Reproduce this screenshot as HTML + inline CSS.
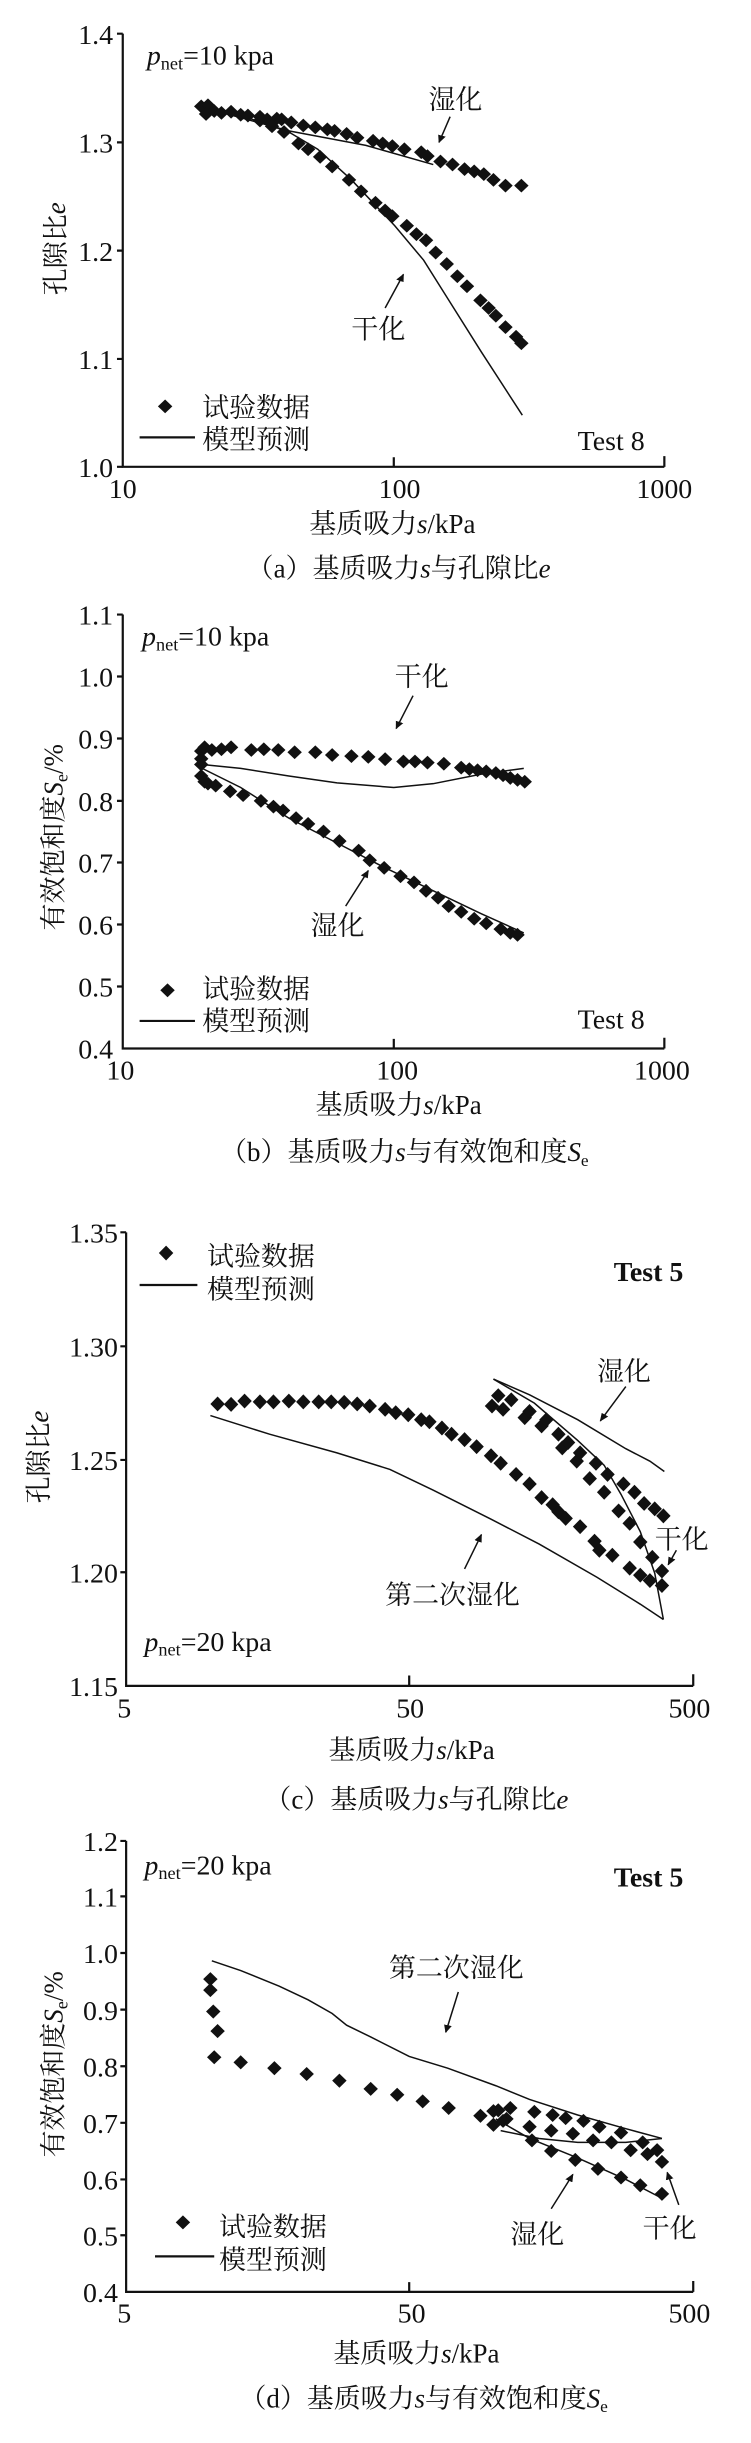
<!DOCTYPE html>
<html><head><meta charset="utf-8"><style>
html,body{margin:0;padding:0;background:#fff}
body{width:751px;height:2443px;position:relative;overflow:hidden}
svg{position:absolute;left:0}
text{font-family:"Liberation Serif","Noto Serif CJK SC",serif;fill:#111}
text:not(.r){transform-box:fill-box;transform-origin:center}
.A text:not(.r){transform:scaleY(1.26)}
.C text:not(.r){transform:scaleY(1.16)}
.D text:not(.r){transform:scaleY(1.233)}
.t{font-size:58px}
.c{font-size:56px}
.b{font-weight:bold}
.ax{stroke-width:2.2px}
.ln{stroke-width:1.5px}
path.s{vector-effect:non-scaling-stroke}
</style></head><body>
<svg width="0" height="0" style="position:absolute"><defs>
<path id="d" d="M0,-18 L15,0 0,18 -15,0Z" fill="#111"/>
<marker id="ar" viewBox="0 0 10 10" refX="9" refY="5" markerWidth="6" markerHeight="6" orient="auto"><path d="M0,1 L10,5 0,9Z" fill="#111"/></marker>
</defs></svg>

<!-- Chart a -->
<svg class="A" style="top:0" width="751" height="600" viewBox="0 0 1560 1568" preserveAspectRatio="none">
<g stroke="#111" fill="none">
<path class="s ax" d="M255,88 V1220 H1380"/>
<path class="s ax" d="M243,88H255M243,372H255M243,655H255M243,938H255M243,1220H255"/>
<path class="s ax" d="M818,1220V1195M1380,1220V1192"/>
</g>
<g class="t" text-anchor="end"><text x="235" y="110">1.4</text><text x="235" y="394">1.3</text><text x="235" y="677">1.2</text><text x="235" y="960">1.1</text><text x="235" y="1242">1.0</text></g>
<g class="t" text-anchor="middle"><text x="255" y="1297">10</text><text x="830" y="1297">100</text><text x="1380" y="1297">1000</text></g>
<text class="c" x="815" y="1388" text-anchor="middle">基质吸力<tspan font-style="italic">s</tspan>/kPa</text>
<text class="c" x="828" y="1505" text-anchor="middle">（a）基质吸力<tspan font-style="italic">s</tspan>与孔隙比<tspan font-style="italic">e</tspan></text>
<text class="c r" transform="translate(135,650) scale(1,1.26) rotate(-90)" text-anchor="middle">孔隙比<tspan font-style="italic">e</tspan></text>
<text class="t" x="305" y="165"><tspan font-style="italic">p</tspan><tspan font-size="38" dy="10">net</tspan><tspan dy="-10">=10 kpa</tspan></text>
<text class="c" x="890" y="280">湿化</text>
<text class="c" x="730" y="880">干化</text>
<text class="t" x="1200" y="1172">Test 8</text>
<g stroke="#111" fill="none">
<path class="s ln" d="M935,305 L912,372" marker-end="url(#ar)"/>
<path class="s ln" d="M800,805 L838,717" marker-end="url(#ar)"/>
<path class="s ax" d="M290,1143H405"/>
<path class="s ln" d="M420,280 L600,342 L760,380 L900,430"/>
<path class="s ln" d="M420,280 L520,310 L600,345 L660,390 L730,470 L820,590 L880,680 L930,780 L1000,920 L1085,1085"/>
</g>
<use href="#d" x="343" y="1062"/>
<text class="c" x="420" y="1085">试验数据</text><text class="c" x="420" y="1168">模型预测</text>
<g>
<use href="#d" x="418" y="278"/><use href="#d" x="432" y="275"/><use href="#d" x="428" y="298"/><use href="#d" x="445" y="290"/><use href="#d" x="460" y="295"/><use href="#d" x="480" y="292"/><use href="#d" x="500" y="300"/><use href="#d" x="515" y="302"/><use href="#d" x="540" y="305"/><use href="#d" x="555" y="312"/><use href="#d" x="575" y="310"/><use href="#d" x="585" y="312"/><use href="#d" x="605" y="320"/><use href="#d" x="630" y="328"/><use href="#d" x="655" y="333"/><use href="#d" x="680" y="338"/><use href="#d" x="695" y="342"/><use href="#d" x="720" y="350"/><use href="#d" x="742" y="360"/><use href="#d" x="775" y="368"/><use href="#d" x="795" y="375"/><use href="#d" x="815" y="382"/><use href="#d" x="840" y="390"/><use href="#d" x="875" y="398"/><use href="#d" x="888" y="408"/><use href="#d" x="915" y="422"/><use href="#d" x="940" y="430"/><use href="#d" x="965" y="442"/><use href="#d" x="985" y="448"/><use href="#d" x="1005" y="455"/><use href="#d" x="1025" y="470"/><use href="#d" x="1050" y="485"/><use href="#d" x="1083" y="485"/>
<use href="#d" x="540" y="315"/><use href="#d" x="565" y="330"/><use href="#d" x="590" y="345"/><use href="#d" x="620" y="375"/><use href="#d" x="640" y="390"/><use href="#d" x="665" y="410"/><use href="#d" x="690" y="435"/><use href="#d" x="725" y="470"/><use href="#d" x="750" y="500"/><use href="#d" x="780" y="530"/><use href="#d" x="800" y="550"/><use href="#d" x="815" y="565"/><use href="#d" x="845" y="590"/><use href="#d" x="865" y="612"/><use href="#d" x="885" y="628"/><use href="#d" x="905" y="660"/><use href="#d" x="928" y="690"/><use href="#d" x="950" y="722"/><use href="#d" x="970" y="748"/><use href="#d" x="998" y="785"/><use href="#d" x="1015" y="805"/><use href="#d" x="1030" y="825"/><use href="#d" x="1050" y="855"/><use href="#d" x="1072" y="880"/><use href="#d" x="1083" y="897"/>
</g>
</svg>

<!-- Chart b -->
<svg class="A" style="top:600px" width="751" height="600" viewBox="0 0 1560 1568" preserveAspectRatio="none">
<g stroke="#111" fill="none">
<path class="s ax" d="M255,38 V1172 H1380"/>
<path class="s ax" d="M243,38H255M243,200H255M243,362H255M243,525H255M243,686H255M243,848H255M243,1010H255"/>
<path class="s ax" d="M818,1172V1147M1380,1172V1144"/>
</g>
<g class="t" text-anchor="end"><text x="235" y="60">1.1</text><text x="235" y="222">1.0</text><text x="235" y="384">0.9</text><text x="235" y="547">0.8</text><text x="235" y="708">0.7</text><text x="235" y="870">0.6</text><text x="235" y="1032">0.5</text><text x="235" y="1194">0.4</text></g>
<g class="t" text-anchor="middle"><text x="250" y="1248">10</text><text x="825" y="1248">100</text><text x="1375" y="1248">1000</text></g>
<text class="c" x="828" y="1338" text-anchor="middle">基质吸力<tspan font-style="italic">s</tspan>/kPa</text>
<text class="c" x="840" y="1462" text-anchor="middle">（b）基质吸力<tspan font-style="italic">s</tspan>与有效饱和度<tspan font-style="italic">S</tspan><tspan font-size="36" dy="10">e</tspan></text>
<text class="c r" transform="translate(130,620) scale(1,1.26) rotate(-90)" text-anchor="middle">有效饱和度<tspan font-style="italic">S</tspan><tspan font-size="38" dy="10">e</tspan><tspan dy="-10">/%</tspan></text>
<text class="t" x="295" y="115"><tspan font-style="italic">p</tspan><tspan font-size="38" dy="10">net</tspan><tspan dy="-10">=10 kpa</tspan></text>
<text class="c" x="820" y="220">干化</text>
<text class="c" x="645" y="870">湿化</text>
<text class="t" x="1200" y="1115">Test 8</text>
<g stroke="#111" fill="none">
<path class="s ln" d="M858,250 L823,336" marker-end="url(#ar)"/>
<path class="s ln" d="M718,800 L765,707" marker-end="url(#ar)"/>
<path class="s ax" d="M290,1100H405"/>
<path class="s ln" d="M420,430 L500,440 L600,460 L700,478 L818,490 L900,480 L1000,455 L1088,440"/>
<path class="s ln" d="M420,440 L500,490 L600,570 L700,635 L800,700 L900,760 L1000,820 L1088,870"/>
</g>
<use href="#d" x="348" y="1020"/>
<text class="c" x="420" y="1037">试验数据</text><text class="c" x="420" y="1120">模型预测</text>
<g>
<use href="#d" x="418" y="395"/><use href="#d" x="425" y="385"/><use href="#d" x="440" y="392"/><use href="#d" x="460" y="390"/><use href="#d" x="480" y="385"/><use href="#d" x="522" y="392"/><use href="#d" x="548" y="390"/><use href="#d" x="578" y="392"/><use href="#d" x="612" y="398"/><use href="#d" x="655" y="398"/><use href="#d" x="690" y="405"/><use href="#d" x="730" y="408"/><use href="#d" x="765" y="410"/><use href="#d" x="800" y="416"/><use href="#d" x="838" y="422"/><use href="#d" x="862" y="422"/><use href="#d" x="888" y="425"/><use href="#d" x="922" y="428"/><use href="#d" x="958" y="438"/><use href="#d" x="975" y="442"/><use href="#d" x="992" y="445"/><use href="#d" x="1010" y="448"/><use href="#d" x="1030" y="452"/><use href="#d" x="1045" y="458"/><use href="#d" x="1060" y="465"/><use href="#d" x="1075" y="470"/><use href="#d" x="1090" y="475"/>
<use href="#d" x="418" y="430"/><use href="#d" x="418" y="415"/>
<use href="#d" x="418" y="460"/><use href="#d" x="425" y="475"/><use href="#d" x="432" y="480"/><use href="#d" x="448" y="485"/><use href="#d" x="478" y="500"/><use href="#d" x="505" y="510"/><use href="#d" x="542" y="525"/><use href="#d" x="568" y="540"/><use href="#d" x="588" y="550"/><use href="#d" x="615" y="570"/><use href="#d" x="640" y="585"/><use href="#d" x="672" y="605"/><use href="#d" x="705" y="630"/><use href="#d" x="745" y="655"/><use href="#d" x="768" y="680"/><use href="#d" x="798" y="700"/><use href="#d" x="832" y="722"/><use href="#d" x="860" y="738"/><use href="#d" x="885" y="760"/><use href="#d" x="910" y="778"/><use href="#d" x="932" y="800"/><use href="#d" x="958" y="815"/><use href="#d" x="985" y="833"/><use href="#d" x="1010" y="845"/><use href="#d" x="1040" y="860"/><use href="#d" x="1060" y="870"/><use href="#d" x="1075" y="875"/>
</g>
</svg>

<!-- Chart c -->
<svg class="C" style="top:1200px" width="751" height="650" viewBox="0 0 1560 1568" preserveAspectRatio="none">
<g stroke="#111" fill="none">
<path class="s ax" d="M262,78 V1172 H1440"/>
<path class="s ax" d="M250,78H262M250,353H262M250,627H262M250,898H262"/>
<path class="s ax" d="M850,1172V1147M1440,1172V1144"/>
</g>
<g class="t" text-anchor="end"><text x="245" y="100">1.35</text><text x="245" y="375">1.30</text><text x="245" y="649">1.25</text><text x="245" y="920">1.20</text><text x="245" y="1194">1.15</text></g>
<g class="t" text-anchor="middle"><text x="258" y="1245">5</text><text x="852" y="1245">50</text><text x="1432" y="1245">500</text></g>
<text class="c" x="855" y="1345" text-anchor="middle">基质吸力<tspan font-style="italic">s</tspan>/kPa</text>
<text class="c" x="865" y="1465" text-anchor="middle">（c）基质吸力<tspan font-style="italic">s</tspan>与孔隙比<tspan font-style="italic">e</tspan></text>
<text class="c r" transform="translate(100,620) scale(1,1.16) rotate(-90)" text-anchor="middle">孔隙比<tspan font-style="italic">e</tspan></text>
<text class="t" x="300" y="1085"><tspan font-style="italic">p</tspan><tspan font-size="38" dy="10">net</tspan><tspan dy="-10">=20 kpa</tspan></text>
<text class="c" x="1240" y="432">湿化</text>
<text class="c" x="1360" y="838">干化</text>
<text class="c" x="800" y="972">第二次湿化</text>
<text class="t b" x="1275" y="192">Test 5</text>
<g stroke="#111" fill="none">
<path class="s ln" d="M1300,450 L1247,533" marker-end="url(#ar)"/>
<path class="s ln" d="M1405,845 L1388,880" marker-end="url(#ar)"/>
<path class="s ln" d="M965,890 L1000,807" marker-end="url(#ar)"/>
<path class="s ax" d="M290,205H410"/>
<path class="s ln" d="M437,520 L560,565 L700,610 L810,650 L900,700 L1020,770 L1120,830 L1240,910 L1330,975 L1378,1012"/>
<path class="s ln" d="M1025,432 L1100,470 L1200,530 L1300,600 L1350,630 L1380,655"/>
<path class="s ln" d="M1025,432 L1110,490 L1200,580 L1255,640 L1290,710 L1330,800 L1360,900 L1378,1012"/>
</g>
<use href="#d" x="345" y="128"/>
<text class="c" x="430" y="155">试验数据</text><text class="c" x="430" y="235">模型预测</text>
<g>
<use href="#d" x="452" y="492"/><use href="#d" x="480" y="493"/><use href="#d" x="508" y="485"/><use href="#d" x="540" y="487"/><use href="#d" x="568" y="487"/><use href="#d" x="600" y="485"/><use href="#d" x="630" y="487"/><use href="#d" x="662" y="487"/><use href="#d" x="688" y="487"/><use href="#d" x="715" y="488"/><use href="#d" x="742" y="492"/><use href="#d" x="768" y="497"/><use href="#d" x="800" y="505"/><use href="#d" x="822" y="513"/><use href="#d" x="848" y="518"/><use href="#d" x="875" y="530"/><use href="#d" x="892" y="535"/><use href="#d" x="918" y="550"/><use href="#d" x="938" y="565"/><use href="#d" x="965" y="578"/><use href="#d" x="990" y="595"/><use href="#d" x="1020" y="617"/><use href="#d" x="1040" y="635"/><use href="#d" x="1072" y="662"/><use href="#d" x="1100" y="685"/><use href="#d" x="1125" y="718"/><use href="#d" x="1148" y="735"/><use href="#d" x="1160" y="752"/><use href="#d" x="1175" y="768"/><use href="#d" x="1205" y="788"/><use href="#d" x="1235" y="823"/><use href="#d" x="1245" y="845"/><use href="#d" x="1272" y="857"/><use href="#d" x="1308" y="888"/><use href="#d" x="1330" y="905"/><use href="#d" x="1350" y="918"/><use href="#d" x="1375" y="930"/>
<use href="#d" x="1022" y="497"/><use href="#d" x="1035" y="472"/><use href="#d" x="1045" y="505"/><use href="#d" x="1062" y="482"/><use href="#d" x="1090" y="525"/><use href="#d" x="1100" y="510"/><use href="#d" x="1125" y="545"/><use href="#d" x="1135" y="530"/><use href="#d" x="1160" y="565"/><use href="#d" x="1168" y="598"/><use href="#d" x="1180" y="585"/><use href="#d" x="1198" y="630"/><use href="#d" x="1205" y="610"/><use href="#d" x="1225" y="672"/><use href="#d" x="1238" y="635"/><use href="#d" x="1255" y="705"/><use href="#d" x="1262" y="662"/><use href="#d" x="1285" y="750"/><use href="#d" x="1295" y="685"/><use href="#d" x="1308" y="780"/><use href="#d" x="1318" y="705"/><use href="#d" x="1330" y="825"/><use href="#d" x="1338" y="732"/><use href="#d" x="1355" y="862"/><use href="#d" x="1360" y="745"/><use href="#d" x="1375" y="895"/><use href="#d" x="1378" y="762"/>
</g>
</svg>

<!-- Chart d -->
<svg class="D" style="top:1830px" width="751" height="613" viewBox="0 0 1560 1570" preserveAspectRatio="none">
<g stroke="#111" fill="none">
<path class="s ax" d="M262,28 V1183 H1440"/>
<path class="s ax" d="M250,28H262M250,170H262M250,315H262M250,460H262M250,605H262M250,750H262M250,895H262M250,1038H262"/>
<path class="s ax" d="M850,1183V1158M1440,1183V1155"/>
</g>
<g class="t" text-anchor="end"><text x="245" y="50">1.2</text><text x="245" y="192">1.1</text><text x="245" y="337">1.0</text><text x="245" y="482">0.9</text><text x="245" y="627">0.8</text><text x="245" y="772">0.7</text><text x="245" y="917">0.6</text><text x="245" y="1060">0.5</text><text x="245" y="1205">0.4</text></g>
<g class="t" text-anchor="middle"><text x="258" y="1257">5</text><text x="855" y="1257">50</text><text x="1432" y="1257">500</text></g>
<text class="c" x="865" y="1360" text-anchor="middle">基质吸力<tspan font-style="italic">s</tspan>/kPa</text>
<text class="c" x="880" y="1475" text-anchor="middle">（d）基质吸力<tspan font-style="italic">s</tspan>与有效饱和度<tspan font-style="italic">S</tspan><tspan font-size="36" dy="10">e</tspan></text>
<text class="c r" transform="translate(130,600) scale(1,1.233) rotate(-90)" text-anchor="middle">有效饱和度<tspan font-style="italic">S</tspan><tspan font-size="38" dy="10">e</tspan><tspan dy="-10">/%</tspan></text>
<text class="t" x="300" y="110"><tspan font-style="italic">p</tspan><tspan font-size="38" dy="10">net</tspan><tspan dy="-10">=20 kpa</tspan></text>
<text class="t b" x="1275" y="140">Test 5</text>
<text class="c" x="808" y="372">第二次湿化</text>
<text class="c" x="1060" y="1055">湿化</text>
<text class="c" x="1335" y="1040">干化</text>
<g stroke="#111" fill="none">
<path class="s ln" d="M952,415 L926,518" marker-end="url(#ar)"/>
<path class="s ln" d="M1145,970 L1190,882" marker-end="url(#ar)"/>
<path class="s ln" d="M1410,960 L1386,877" marker-end="url(#ar)"/>
<path class="s ax" d="M322,1092H445"/>
<path class="s ln" d="M440,335 L500,360 L580,400 L640,435 L690,470 L720,500 L770,530 L850,580 L930,610 L1030,655 L1100,690 L1200,730 L1300,765 L1375,790"/>
<path class="s ln" d="M1030,740 L1100,790 L1200,840 L1300,895 L1370,940"/>
<path class="s ln" d="M1040,770 L1120,790 L1200,800 L1300,800 L1375,790"/>
</g>
<use href="#d" x="380" y="1005"/>
<text class="c" x="455" y="1035">试验数据</text><text class="c" x="455" y="1120">模型预测</text>
<g>
<use href="#d" x="437" y="382"/><use href="#d" x="437" y="410"/><use href="#d" x="443" y="465"/><use href="#d" x="452" y="515"/><use href="#d" x="445" y="582"/><use href="#d" x="500" y="595"/><use href="#d" x="570" y="610"/><use href="#d" x="637" y="625"/><use href="#d" x="705" y="642"/><use href="#d" x="770" y="663"/><use href="#d" x="825" y="678"/><use href="#d" x="878" y="695"/><use href="#d" x="932" y="712"/><use href="#d" x="998" y="732"/><use href="#d" x="1025" y="755"/><use href="#d" x="1035" y="718"/><use href="#d" x="1052" y="740"/><use href="#d" x="1060" y="712"/><use href="#d" x="1100" y="760"/><use href="#d" x="1105" y="795"/><use href="#d" x="1110" y="722"/><use href="#d" x="1145" y="770"/><use href="#d" x="1145" y="822"/><use href="#d" x="1148" y="730"/><use href="#d" x="1190" y="778"/><use href="#d" x="1195" y="845"/><use href="#d" x="1175" y="738"/><use href="#d" x="1212" y="745"/><use href="#d" x="1232" y="795"/><use href="#d" x="1242" y="868"/><use href="#d" x="1245" y="760"/><use href="#d" x="1270" y="800"/><use href="#d" x="1290" y="890"/><use href="#d" x="1290" y="775"/><use href="#d" x="1310" y="820"/><use href="#d" x="1330" y="910"/><use href="#d" x="1335" y="800"/><use href="#d" x="1345" y="830"/><use href="#d" x="1365" y="820"/><use href="#d" x="1375" y="850"/><use href="#d" x="1375" y="932"/><use href="#d" x="1025" y="720"/><use href="#d" x="1045" y="745"/>
</g>
</svg>
</body></html>
